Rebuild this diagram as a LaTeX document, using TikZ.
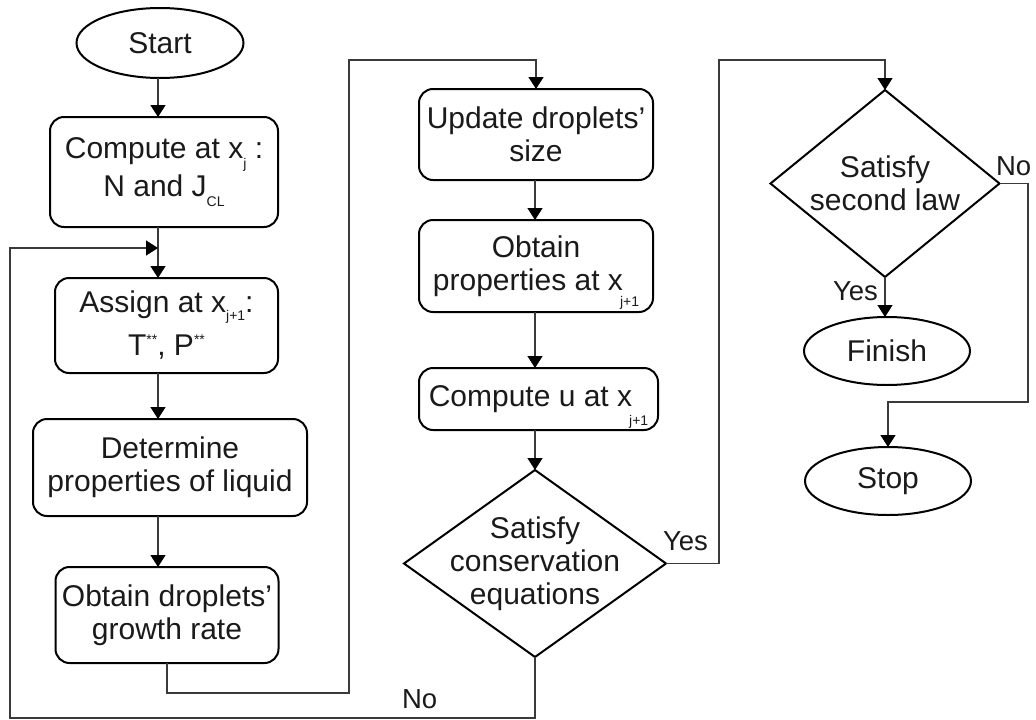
\documentclass[tikz,border=0pt]{standalone}
\usepackage{fontspec}
\setmainfont{Liberation Sans}
\usetikzlibrary{shapes.geometric,arrows.meta}

\definecolor{txt}{HTML}{1A1A1A}
\definecolor{linkc}{HTML}{3A3A3A}

% lowered subscript: #1 = drop, #2 = text
\newcommand\lsub[2]{\raisebox{-#1}{\fontsize{14}{14}\selectfont #2}}
\newcommand\lsubs[2]{\smash{\raisebox{-#1}{\fontsize{14}{14}\selectfont #2}}}
% raised superscript
\newcommand\usup[1]{\smash{\raisebox{11.5pt}{\fontsize{14}{14}\selectfont #1}}}

\begin{document}
\begin{tikzpicture}[x=1pt,y=-1pt,
  every node/.style={inner sep=0pt, outer sep=0pt, text=txt},
  proc/.style={draw=black, line width=2pt, rounded corners=14pt, align=center,
    font=\fontsize{30}{33}\selectfont},
  term/.style={draw=black, line width=2pt, ellipse, font=\fontsize{30}{33}\selectfont},
  decide/.style={draw=black, line width=2pt, diamond},
  dtext/.style={align=center, font=\fontsize{30}{33}\selectfont},
  lab/.style={anchor=base west, font=\fontsize{27.5}{30}\selectfont},
  link/.style={draw=linkc, line width=1.4pt},
  arr/.style={link, -{Triangle[width=15pt,length=12pt,color=black]}},
]
\useasboundingbox (0,0) rectangle (1036,720);

% column guides and bend points
\coordinate (colA) at (158,0);
\coordinate (colB) at (535,0);
\coordinate (loopY) at (0,248);
\coordinate (leftX) at (10,0);
\coordinate (bottomY) at (0,718);
\coordinate (j1) at (349,693);
\coordinate (j2) at (349,60);
\coordinate (j3) at (719,60);
\coordinate (j4) at (1028,402);

% first column
\node[term, minimum width=167pt, minimum height=70pt] (start) at (160,43) {Start};
\node[proc, minimum width=228pt, minimum height=110pt] (comp) at (164,172)
  {Compute at x\lsubs{10pt}{j} :\\[5pt] N and J\lsub{10pt}{CL}};
\node[proc, minimum width=223pt, minimum height=95pt] (assign) at (166.5,325.5)
  {Assign at x\lsubs{8pt}{j+1}:\\[10pt] T\usup{**}, P\usup{**}};
\node[proc, minimum width=274pt, minimum height=97pt] (det) at (170,467.5)
  {Determine\\properties of liquid};
\node[proc, minimum width=223pt, minimum height=96pt] (grow) at (167,615)
  {Obtain droplets'\\growth rate};

% second column
\node[proc, minimum width=234pt, minimum height=91pt] (update) at (536,134.5)
  {Update droplets'\\size};
\node[proc, minimum width=234pt, minimum height=92pt] (props) at (536,266)
  {Obtain\\properties at x\kern-3pt\lsubs{16pt}{j+1}};
\node[proc, minimum width=239pt, minimum height=62pt] (compu) at (538.5,399)
  {Compute u at x\kern-3pt\lsubs{19pt}{j+1}};
\node[decide, minimum width=262pt, minimum height=187pt] (cons) at (535,563.5) {};
\node[dtext] (consT) at (cons) {Satisfy\\conservation\\equations};

% third column
\node[decide, minimum width=229pt, minimum height=187pt] (law) at (885,183.5) {};
\node[dtext] (lawT) at (law) {Satisfy\\second law};
\node[term, minimum width=166pt, minimum height=68pt] (fin) at (887,351) {Finish};
\node[term, minimum width=166pt, minimum height=68pt] (stop) at (888,481) {Stop};

% branch labels
\node[lab] (yesA) at (663,550) {Yes};
\node[lab] (noA) at (402,708) {No};
\node[lab] (noB) at (996,175) {No};
\node[lab] (yesB) at (833,300) {Yes};

% connectors
\draw[arr] (colA |- start.south) -- (colA |- comp.north);
\draw[arr] (colA |- comp.south) -- (colA |- assign.north);
\draw[arr] (colA |- assign.south) -- (colA |- det.north);
\draw[arr] (colA |- det.south) -- (colA |- grow.north);
\draw[arr] (grow.south) |- (j1) -- (j2) -| (update.north);
\draw[arr] (colB |- update.south) -- (colB |- props.north);
\draw[arr] (colB |- props.south) -- (colB |- compu.north);
\draw[arr] (colB |- compu.south) -- (cons.north);
\draw[arr] (cons.south) -- (cons.south |- bottomY) -| (leftX |- loopY) -- (colA |- loopY);
\draw[arr] (cons.east) -| (j3) -| (law.north);
\draw[arr] (law.south) -- (law.south |- fin.north);
\draw[arr] (law.east) -| (j4) -| (stop.north);
\end{tikzpicture}
\end{document}
